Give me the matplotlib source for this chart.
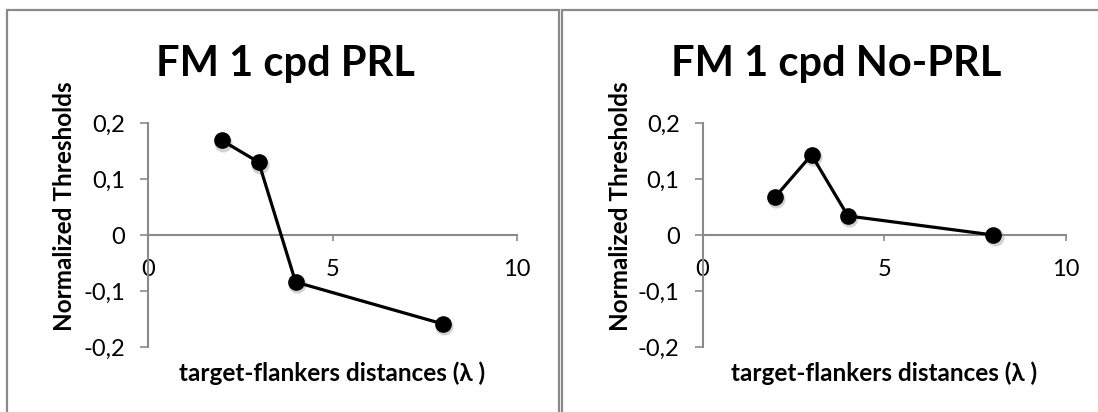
import matplotlib
matplotlib.use("Agg")
import matplotlib.pyplot as plt
from matplotlib.patches import Rectangle
import matplotlib.transforms as mtransforms

# ---- data ----
titles = ["FM 1 cpd PRL", "FM 1 cpd No-PRL"]
distances = [2, 3, 4, 8]
prl_values = [0.169, 0.130, -0.084, -0.159]
noprl_values = [0.068, 0.143, 0.034, 0.0]
x_ticks = [0, 5, 10]
y_ticks = [-0.2, -0.1, 0.0, 0.1, 0.2]
y_ticklabels = ["-0,2", "-0,1", "0", "0,1", "0,2"]
x_ticklabels = ["0", "5", "10"]
xlabel = "target-flankers distances (\u03bb )"
ylabel = "Normalized Thresholds"

FONT = ["Lato", "DejaVu Sans"]
plt.rcParams["font.family"] = FONT
GRAY = "#8a8a8a"

W, H = 1098, 412
fig = plt.figure(figsize=(W / 100, H / 100), dpi=100)

def fx(px):
    return px / W

def fy(py):
    return (H - py) / H

# panel borders
for x0, x1 in [(7, 559), (562, 1115)]:
    rect = Rectangle((fx(x0), fy(H + 20)), fx(x1) - fx(x0), fy(10) - fy(H + 20),
                     transform=fig.transFigure, fill=False, edgecolor=GRAY,
                     linewidth=1.6, clip_on=False)
    fig.add_artist(rect)

panels = [
    dict(ax_left=148, ax_right=517, title_x=285, ylab_x=64, values=prl_values),
    dict(ax_left=702.5, ax_right=1066, title_x=836, ylab_x=620, values=noprl_values),
]

ax_top, ax_bot = 123, 347
for title, p in zip(titles, panels):
    ax = fig.add_axes([fx(p["ax_left"]), fy(ax_bot),
                       fx(p["ax_right"]) - fx(p["ax_left"]), fy(ax_top) - fy(ax_bot)])
    ax.set_xlim(0, 10)
    ax.set_ylim(-0.2, 0.2)
    for s in ["top", "right"]:
        ax.spines[s].set_visible(False)
    ax.spines["bottom"].set_position(("data", 0))
    ax.spines["bottom"].set_color(GRAY)
    ax.spines["left"].set_color(GRAY)
    ax.spines["bottom"].set_linewidth(1.5)
    ax.spines["left"].set_linewidth(1.5)
    ax.set_xticks(x_ticks)
    ax.set_xticklabels(x_ticklabels)
    ax.set_yticks(y_ticks)
    ax.set_yticklabels(y_ticklabels)
    ax.tick_params(axis="x", direction="out", length=4.5, width=1.2, color=GRAY,
                   pad=13, labelsize=17, labelcolor="black")
    ax.tick_params(axis="y", direction="out", length=5.5, width=1.2, color=GRAY,
                   pad=11, labelsize=17, labelcolor="black")
    ax.patch.set_alpha(0)

    # soft shadow under markers
    shadow_tr = mtransforms.offset_copy(ax.transData, fig=fig, x=1.2, y=-2.4, units="dots")
    ax.plot(distances, p["values"], linestyle="none", marker="o", markersize=13,
            color="#b0b0b0", alpha=0.55, markeredgewidth=0, transform=shadow_tr,
            clip_on=False, zorder=2)
    ax.plot(distances, p["values"], color="black", linewidth=2.3, marker="o",
            markersize=12, markeredgewidth=0, clip_on=False, zorder=3)

    fig.text(fx(p["title_x"]), fy(76), title, ha="center", va="baseline",
             fontsize=30, fontweight="bold", family=FONT)
    fig.text(fx(p["ylab_x"]), fy(206), ylabel, ha="center", va="center",
             rotation=90, fontsize=17.5, fontweight="bold", family=FONT)
    cx = (p["ax_left"] + p["ax_right"]) / 2
    fig.text(fx(cx), fy(373), xlabel, ha="center", va="center",
             fontsize=17.5, fontweight="bold", family=FONT)

fig.savefig("out.png", dpi=100)
